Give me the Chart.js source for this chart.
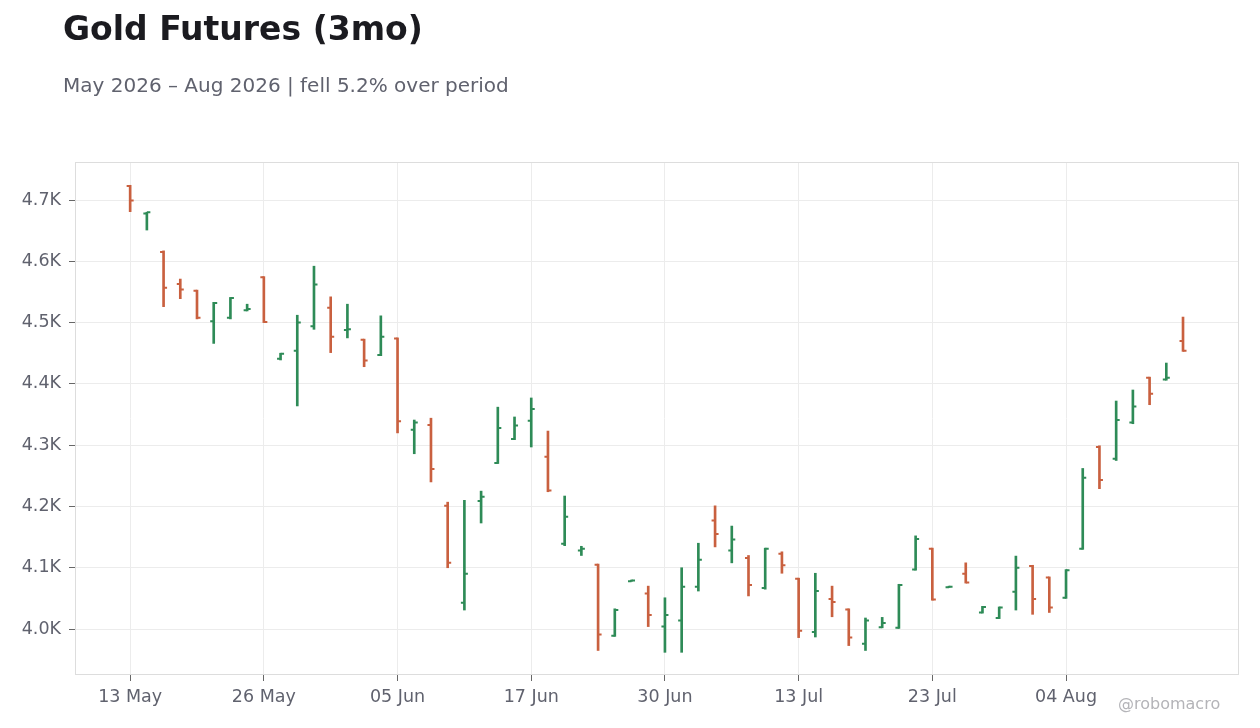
<!DOCTYPE html>
<html>
<head>
<meta charset="utf-8">
<script src="https://cdn.jsdelivr.net/npm/chart.js@4.4.1/dist/chart.umd.min.js"></script>
<style>
  body { margin: 0; background: #fff; font-family: 'DejaVu Sans', sans-serif; }
  #wrap { position: relative; width: 1260px; height: 728px; }
  #title { position: absolute; left: 63px; top: 12px; font-size: 33px; line-height: 33px; font-weight: bold; color: #1b1b20; white-space: nowrap; }
  #sub { position: absolute; left: 63px; top: 75px; font-size: 20px; line-height: 20px; color: #60626e; white-space: nowrap; }
  #mark { position: absolute; left: 1118px; top: 696px; font-size: 16px; line-height: 16px; color: #b4b4b8; white-space: nowrap; }
  canvas { position: absolute; left: 0; top: 0; }
</style>
</head>
<body>
<div id="wrap">
  <canvas id="ohlc" width="1260" height="728"></canvas>
  <div id="title">Gold Futures (3mo)</div>
  <div id="sub">May 2026 – Aug 2026 | fell 5.2% over period</div>
  <div id="mark">@robomacro</div>
</div>
<script>
// trading days, 13 May - 13 Aug 2026
const dates = [
  '13 May', '14 May', '15 May', '18 May', '19 May', '20 May', '21 May', '22 May', '26 May', '27 May', '28 May', '29 May',
  '01 Jun', '02 Jun', '03 Jun', '04 Jun', '05 Jun', '08 Jun', '09 Jun', '10 Jun', '11 Jun', '12 Jun', '15 Jun', '16 Jun',
  '17 Jun', '18 Jun', '22 Jun', '23 Jun', '24 Jun', '25 Jun', '26 Jun', '29 Jun', '30 Jun',
  '01 Jul', '02 Jul', '06 Jul', '07 Jul', '08 Jul', '09 Jul', '10 Jul', '13 Jul', '14 Jul', '15 Jul', '16 Jul', '17 Jul',
  '20 Jul', '21 Jul', '22 Jul', '23 Jul', '24 Jul', '27 Jul', '28 Jul', '29 Jul', '30 Jul', '31 Jul',
  '03 Aug', '04 Aug', '05 Aug', '06 Aug', '07 Aug', '10 Aug', '11 Aug', '12 Aug', '13 Aug'
];

const opens = [
  4723, 4678, 4615, 4563, 4552, 4502, 4508, 4520, 4574, 4441, 4454, 4494, 4524, 4488, 4472, 4447,
  4474, 4325, 4333, 4201, 4043, 4209, 4271, 4310, 4340, 4281, 4139, 4128, 4105, 3989, 4078, 4058,
  4004, 4014, 4069, 4177, 4128, 4116, 4067, 4123, 4082, 3995, 4049, 4032, 3976, 4003, 4002, 4097,
  4131, 4068, 4090, 4027, 4018, 4061, 4103, 4084, 4051, 4131, 4297, 4278, 4337, 4410, 4407, 4470
];
const highs = [
  4724, 4680, 4617, 4571, 4553, 4533, 4541, 4530, 4575, 4450, 4512, 4592, 4542, 4530, 4473, 4511,
  4475, 4341, 4344, 4207, 4210, 4225, 4362, 4346, 4377, 4323, 4217, 4135, 4106, 4033, 4080, 4070,
  4051, 4100, 4140, 4201, 4168, 4120, 4132, 4126, 4083, 4091, 4070, 4033, 4018, 4019, 4073, 4152,
  4132, 4070, 4108, 4037, 4036, 4119, 4104, 4085, 4097, 4262, 4299, 4372, 4390, 4411, 4434, 4509
];
const lows = [
  4681, 4651, 4526, 4539, 4506, 4466, 4506, 4519, 4500, 4439, 4364, 4489, 4451, 4475, 4428, 4446,
  4320, 4286, 4240, 4100, 4031, 4173, 4270, 4309, 4297, 4224, 4136, 4120, 3965, 3988, 4078, 4004,
  3962, 3962, 4062, 4134, 4108, 4054, 4065, 4091, 3986, 3987, 4020, 3973, 3965, 4002, 4001, 4096,
  4047, 4068, 4075, 4026, 4017, 4031, 4024, 4027, 4050, 4130, 4229, 4275, 4335, 4366, 4406, 4453
];
const closes = [
  4699, 4680, 4557, 4554, 4508, 4532, 4540, 4522, 4501, 4449, 4500, 4562, 4477, 4489, 4438, 4477,
  4339, 4337, 4261, 4108, 4090, 4216, 4328, 4332, 4359, 4226, 4183, 4131, 3991, 4031, 4079, 4023,
  4023, 4069, 4113, 4155, 4146, 4072, 4131, 4104, 3997, 4062, 4044, 3986, 4014, 4010, 4072, 4147,
  4048, 4069, 4076, 4036, 4035, 4100, 4049, 4035, 4096, 4247, 4243, 4341, 4363, 4384, 4410, 4454
];

const xTickIdx = [0, 8, 16, 24, 32, 40, 48, 56];
const yTicks = [4000, 4100, 4200, 4300, 4400, 4500, 4600, 4700];

const UP = '#2e8b57';
const DOWN = '#c9603f';
const barColors = opens.map((o, i) => closes[i] >= o ? UP : DOWN);

// open / close ticks on each bar
const ohlcTicks = {
  id: 'ohlcTicks',
  afterDatasetsDraw(chart) {
    const ctx = chart.ctx;
    const y = chart.scales.y;
    const meta = chart.getDatasetMeta(0);
    ctx.save();
    ctx.lineWidth = 2;
    meta.data.forEach((bar, i) => {
      const x = bar.x;
      ctx.strokeStyle = barColors[i];
      ctx.beginPath();
      ctx.moveTo(x - 3.5, y.getPixelForValue(opens[i]));
      ctx.lineTo(x, y.getPixelForValue(opens[i]));
      ctx.moveTo(x, y.getPixelForValue(closes[i]));
      ctx.lineTo(x + 3.5, y.getPixelForValue(closes[i]));
      ctx.stroke();
    });
    ctx.restore();
  }
};

const frame = {
  id: 'frame',
  beforeDatasetsDraw(chart) {
    const { ctx, chartArea: a } = chart;
    ctx.save();
    ctx.strokeStyle = '#dddddd';
    ctx.lineWidth = 1;
    ctx.strokeRect(a.left + 0.5, a.top + 0.5, a.right - a.left - 1, a.bottom - a.top - 1);
    ctx.restore();
  }
};

const tickFont = { family: 'DejaVu Sans', size: 17.5 };

new Chart(document.getElementById('ohlc'), {
  type: 'bar',
  data: {
    datasets: [{
      label: 'Gold Futures',
      data: dates.map((d, i) => ({ x: i, y: [lows[i], highs[i]] })),
      backgroundColor: barColors,
      borderWidth: 0,
      barThickness: 2,
      grouped: false
    }]
  },
  options: {
    responsive: false,
    animation: false,
    devicePixelRatio: 1,
    layout: { padding: { top: 162, right: 21, left: 0, bottom: 0 } },
    plugins: {
      legend: { display: false },
      tooltip: { enabled: false }
    },
    scales: {
      x: {
        type: 'linear',
        offset: false,
        min: -3.3,
        max: 66.35,
        afterBuildTicks: s => { s.ticks = xTickIdx.map(v => ({ value: v })); },
        afterFit: s => { s.height = 53; },
        border: { display: false },
        grid: { offset: false, color: '#ececec', tickColor: '#666', tickLength: 6 },
        ticks: {
          autoSkip: false,
          maxRotation: 0,
          padding: 6,
          color: '#60626e',
          font: tickFont,
          callback: v => dates[v]
        }
      },
      y: {
        min: 3925,
        max: 4762,
        afterBuildTicks: s => { s.ticks = yTicks.map(v => ({ value: v })); },
        afterFit: s => { s.width = 75; },
        border: { display: false },
        grid: { color: '#ececec', tickColor: '#666', tickLength: 6 },
        ticks: {
          padding: 8,
          color: '#60626e',
          font: tickFont,
          callback: v => (v / 1000).toFixed(1) + 'K'
        }
      }
    }
  },
  plugins: [frame, ohlcTicks]
});
</script>
</body>
</html>
